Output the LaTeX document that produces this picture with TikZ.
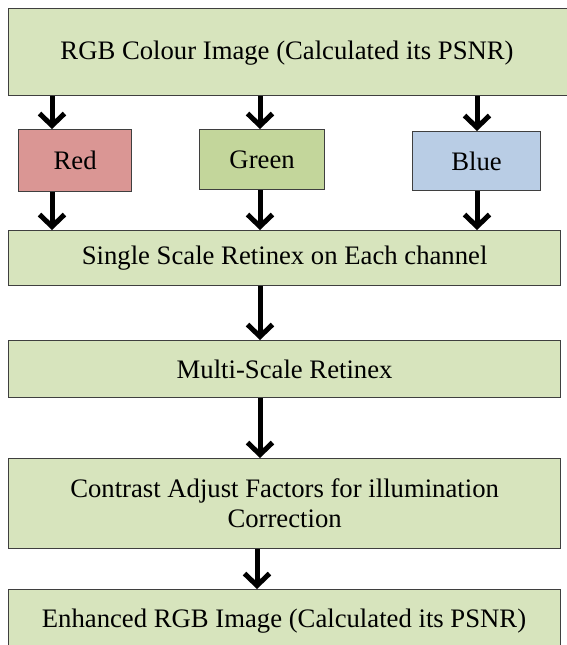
\documentclass[tikz,border=0pt]{standalone}
\usepackage{fontspec}
\setmainfont{Liberation Serif}
\usetikzlibrary{arrows.meta}
\definecolor{boxgreen}{HTML}{D7E4BD}
\definecolor{redfill}{HTML}{DA9694}
\definecolor{greenfill}{HTML}{C3D69B}
\definecolor{bluefill}{HTML}{B9CDE5}
\definecolor{bordergrey}{HTML}{3F3F3F}
\begin{document}
\begin{tikzpicture}[x=1pt,y=-1pt,
  box/.style={draw=bordergrey, line width=1.2pt, fill=boxgreen, inner sep=0pt,
    anchor=north west, font=\fontsize{26.7}{30}\selectfont, align=center},
  lbl/.style={font=\fontsize{26.7}{30}\selectfont, inner sep=0pt},
  flow/.style={line width=5pt, -{Straight Barb[length=12pt,width=25pt]}}]
\useasboundingbox (0,0) rectangle (566,645);
% boxes
\node[box, minimum width=575pt, minimum height=87pt] (top) at (8,8) {};
\node[lbl] (toptext) at (287,53) {RGB Colour Image (Calculated its PSNR)};
\node[box, fill=redfill, minimum width=113pt, minimum height=62pt] (red) at (18,129) {Red};
\node[box, fill=greenfill, minimum width=125pt, minimum height=60pt] (green) at (199,129) {Green};
\node[box, fill=bluefill, minimum width=128pt, minimum height=59pt] (blue) at (412,131) {Blue};
\node[box, minimum width=552pt, minimum height=55pt] (ssr) at (8,230) {Single Scale Retinex on Each channel};
\node[box, minimum width=552pt, minimum height=57pt] (msr) at (8,340) {Multi-Scale Retinex};
\node[box, minimum width=552pt, minimum height=90pt] (caf) at (8,458) {Contrast Adjust Factors for illumination\\Correction};
\node[box, minimum width=552pt, minimum height=70pt] (enh) at (8,589) {};
\node[lbl] (enhtext) at (284,621) {Enhanced RGB Image (Calculated its PSNR)};
% arrow columns
\coordinate (xr) at (52,0);
\coordinate (xg) at (260,0);
\coordinate (xb) at (477,0);
\coordinate (xl) at (257,0);
\draw[flow] (xr |- top.south) -- (xr |- red.north);
\draw[flow] (xg |- top.south) -- (xg |- green.north);
\draw[flow] (xb |- top.south) -- (xb |- blue.north);
\draw[flow] (xr |- red.south) -- (xr |- ssr.north);
\draw[flow] (xg |- green.south) -- (xg |- ssr.north);
\draw[flow] (xb |- blue.south) -- (xb |- ssr.north);
\draw[flow] (xg |- ssr.south) -- (xg |- msr.north);
\draw[flow] (xg |- msr.south) -- (xg |- caf.north);
\draw[flow] (xl |- caf.south) -- (xl |- enh.north);
\end{tikzpicture}
\end{document}
